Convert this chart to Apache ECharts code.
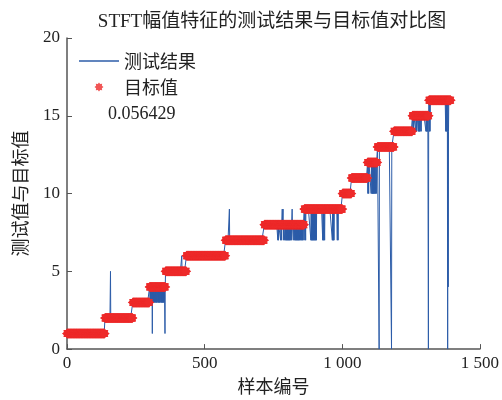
<!DOCTYPE html>
<html>
<head>
<meta charset="utf-8">
<script src="https://cdn.jsdelivr.net/npm/echarts@6/dist/echarts.min.js"></script>
<style>
html,body{margin:0;padding:0;background:#fff;}
#chart{width:502px;height:400px;}
</style>
</head>
<body>
<div id="chart"></div>
<script>
// Target value steps (sample index ranges and target value)
const segStart = [0, 138, 239, 300, 358, 434, 576, 717, 862, 1001, 1034, 1092, 1128, 1188, 1255, 1315];
const segEnd   = [137, 238, 299, 357, 433, 575, 716, 861, 1000, 1033, 1091, 1127, 1187, 1254, 1314, 1394];
const segValue = [1, 2, 3, 4, 5, 6, 7, 8, 9, 10, 11, 12, 13, 14, 15, 16];

// Samples where the test result differs from the target value
const devIndex = [
  158,
  302, 304, 306, 308, 310, 312, 314, 316, 318, 321, 323, 325, 327, 330, 332, 334, 336, 338, 341, 343, 345, 347, 349, 351, 353, 356,
  417,
  590,
  766, 768, 776, 779, 782, 785, 786, 791, 793, 796, 798, 800, 802, 804, 806, 808, 810, 813, 815, 818, 822, 826, 829, 831, 833, 835, 837, 839, 841, 843, 845, 848, 851, 853, 856, 858,
  864, 867, 886, 888, 890, 892, 894, 896, 898, 900, 902, 904, 906, 929, 931, 933, 936, 964, 966, 968, 970, 982, 985,
  1093, 1096, 1105, 1108, 1110, 1112, 1114, 1116, 1118, 1121, 1124,
  1134, 1179,
  1257, 1259, 1267, 1269, 1271, 1277, 1279, 1281, 1283, 1287, 1304, 1306, 1308, 1310, 1313,
  1317, 1319, 1376, 1378, 1380, 1382, 1383, 1385, 1386
];
const devValue = [
  5,
  3, 3, 3, 3, 1, 3, 3, 3, 3, 3, 3, 3, 3, 3, 3, 3, 3, 3, 3, 3, 3, 3, 3, 3, 3, 1,
  6,
  9,
  7, 7, 7, 7, 9, 9, 7, 7, 7, 7, 7, 7, 7, 7, 7, 7, 7, 7, 7, 9, 7, 7, 7, 7, 7, 7, 7, 7, 7, 7, 7, 7, 7, 7, 7, 7,
  7, 7, 7, 7, 7, 7, 7, 7, 7, 7, 7, 7, 7, 7, 7, 7, 7, 7, 7, 7, 7, 7, 7,
  10, 10, 10, 10, 10, 10, 10, 10, 10, 10, 10,
  0, 0,
  14, 14, 14, 14, 14, 14, 14, 14, 14, 14, 14, 14, 14, 14, 0,
  14, 14, 14, 14, 14, 14, 0, 4, 14
];

const xTicks = [0, 500, 1000, 1500];
const xTickLabels = ['0', '500', '1 000', '1 500'];
const yTicks = [0, 5, 10, 15, 20];
const noteText = '0.056429';

// build series data
const targetData = [];
const testData = [];
for (let s = 0; s < segStart.length; s++) {
  for (let i = segStart[s]; i <= segEnd[s]; i++) {
    targetData.push([i, segValue[s]]);
    testData.push([i, segValue[s]]);
  }
}
for (let k = 0; k < devIndex.length; k++) {
  testData[devIndex[k]][1] = devValue[k];
}

const starPath = 'path://M5,0 L3.2,1.33 L3.54,3.54 L1.33,3.2 L0,5 L-1.33,3.2 L-3.54,3.54 L-3.2,1.33 L-5,0 L-3.2,-1.33 L-3.54,-3.54 L-1.33,-3.2 L0,-5 L1.33,-3.2 L3.54,-3.54 L3.2,-1.33 Z';
const linePath = 'path://M0,0 L40,0 L40,1.6 L0,1.6 Z';
const serif = '"Liberation Serif", "Noto Sans CJK SC", serif';
const cjk = '"Noto Sans CJK SC", "Liberation Serif", serif';

const chart = echarts.init(document.getElementById('chart'), null, {renderer: 'canvas'});
chart.setOption({
  animation: false,
  backgroundColor: '#fff',
  title: {
    text: 'STFT幅值特征的测试结果与目标值对比图',
    left: 267, top: 8, textAlign: 'center',
    textStyle: {fontFamily: serif, fontSize: 19, fontWeight: 'normal', color: '#222'}
  },
  grid: {left: 67, right: 21, top: 38, bottom: 46, containLabel: false},
  legend: {
    orient: 'vertical', left: 74, top: 47,
    itemWidth: 40, itemHeight: 9, itemGap: 8,
    textStyle: {fontFamily: cjk, fontSize: 18, color: '#222'},
    data: [
      {name: '测试结果', icon: linePath},
      {name: '目标值', icon: starPath}
    ]
  },
  graphic: [{
    type: 'text', left: 108, top: 105,
    style: {text: noteText, font: '18px "Liberation Serif", serif', fill: '#222'}
  }],
  xAxis: {
    type: 'value', min: xTicks[0], max: xTicks[xTicks.length - 1], interval: 500,
    name: '样本编号', nameLocation: 'middle', nameGap: 25,
    nameTextStyle: {fontFamily: cjk, fontSize: 18, color: '#222'},
    axisLine: {lineStyle: {color: '#555', width: 1.5}},
    axisTick: {inside: true, length: 5, lineStyle: {color: '#555'}},
    axisLabel: {
      fontFamily: serif, fontSize: 17, color: '#222', margin: 6,
      formatter: v => xTickLabels[xTicks.indexOf(v)]
    },
    splitLine: {show: false}
  },
  yAxis: {
    type: 'value', min: yTicks[0], max: yTicks[yTicks.length - 1], interval: 5,
    name: '测试值与目标值', nameLocation: 'middle', nameGap: 38,
    nameTextStyle: {fontFamily: cjk, fontSize: 18, color: '#222'},
    axisLine: {show: true, lineStyle: {color: '#555', width: 1.5}},
    axisTick: {show: true, inside: true, length: 5, lineStyle: {color: '#555'}},
    axisLabel: {fontFamily: serif, fontSize: 17, color: '#222', margin: 7},
    splitLine: {show: false}
  },
  series: [
    {
      name: '测试结果', type: 'line', data: testData,
      showSymbol: false, symbol: 'none',
      lineStyle: {color: '#2c5ca8', width: 1},
      itemStyle: {color: '#2c5ca8'},
      z: 2
    },
    {
      name: '目标值', type: 'scatter', data: targetData,
      symbol: starPath, symbolSize: [10, 10],
      itemStyle: {color: '#ee2b2b'},
      z: 3
    }
  ]
});
</script>
</body>
</html>
